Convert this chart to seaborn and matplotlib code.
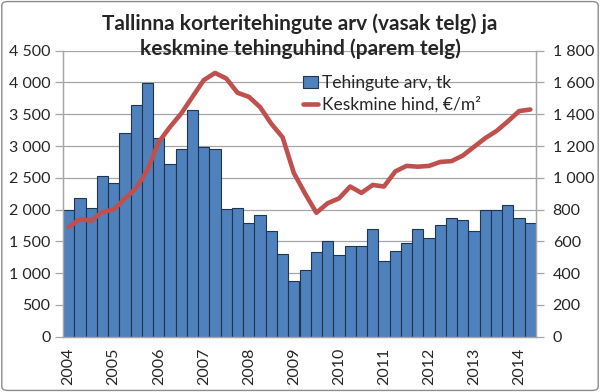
import numpy as np
import pandas as pd
import matplotlib
matplotlib.use('Agg')
import matplotlib.pyplot as plt
from matplotlib.patches import FancyBboxPatch
from matplotlib.ticker import FuncFormatter, FixedLocator
import seaborn as sns

# quarters 2004 Q1 .. 2014 Q2
years = list(range(2004, 2015))
quarters = [f'{y} Q{q}' for y in years for q in range(1, 5)][:42]

# number of transactions (left axis)
deals = [2000, 2180, 2020, 2530, 2420, 3210, 3640, 3990,
         3120, 2710, 2960, 3570, 2990, 2950, 2010, 2020,
         1790, 1920, 1660, 1300, 880, 1050, 1330, 1500,
         1290, 1430, 1420, 1690, 1190, 1350, 1470, 1700,
         1550, 1750, 1870, 1840, 1670, 2000, 1990, 2070,
         1860, 1790]

# average price EUR/m2 (right axis)
price = [690, 740, 730, 785, 800, 870, 935, 1050,
         1225, 1320, 1405, 1510, 1615, 1660, 1625, 1535,
         1510, 1445, 1340, 1255, 1030, 900, 780, 840,
         870, 945, 905, 955, 945, 1040, 1075, 1070,
         1075, 1100, 1105, 1140, 1195, 1250, 1295, 1355,
         1420, 1430]

BLUE = '#4F81BD'
RED = '#C0504D'
GRID = '#A6A6A6'
TICK_FS = 11.5

df = pd.DataFrame({'pos': np.arange(len(quarters)), 'quarter': quarters,
                   'deals': deals, 'price': price})

sns.set_style('white')
plt.rcParams['font.family'] = ['Lato', 'DejaVu Sans']

fig = plt.figure(figsize=(6, 3.92), dpi=100)
ax = fig.add_axes([63 / 600, 1 - 336.7 / 392, 473 / 600, 286 / 392])

sns.barplot(data=df, x='pos', y='deals', ax=ax, color=BLUE, width=1.0,
            saturation=1, edgecolor='#1F3550', linewidth=0.8, zorder=2,
            label='Tehingute arv, tk')
ax.set_xlim(-0.5, len(quarters) - 0.5)
ax.set_ylim(0, 4500)
ax.set_yticks(np.arange(0, 4501, 500))
ax.yaxis.set_major_formatter(FuncFormatter(lambda v, p: f'{int(v):,}'.replace(',', ' ')))
ax.grid(axis='y', color=GRID, linewidth=0.9, zorder=0)
ax.set_axisbelow(True)
ax.set_xlabel('')
ax.set_ylabel('')

# x ticks: labels at Q1 bars, tick marks at bar boundaries
ax.set_xticks(np.arange(0, len(quarters), 4))
ax.set_xticklabels([str(y) for y in years], rotation=90)
ax.xaxis.set_minor_locator(FixedLocator(np.arange(-0.5, len(quarters), 1)))
ax.tick_params(axis='x', which='major', length=0, pad=8, labelsize=TICK_FS)
ax.tick_params(axis='x', which='minor', length=5, color=GRID, width=0.9)
ax.tick_params(axis='y', length=6, color=GRID, width=0.9, labelsize=TICK_FS, pad=3)

ax2 = ax.twinx()
sns.lineplot(data=df, x='pos', y='price', ax=ax2, color=RED, linewidth=3.3,
             solid_joinstyle='round', solid_capstyle='round', zorder=3,
             label='Keskmine hind, €/m²')
ax2.set_ylim(0, 1800)
ax2.set_yticks(np.arange(0, 1801, 200))
ax2.yaxis.set_major_formatter(FuncFormatter(lambda v, p: f'{int(v):,}'.replace(',', ' ')))
ax2.set_ylabel('')
ax2.tick_params(axis='y', length=6, color=GRID, width=0.9, labelsize=TICK_FS, pad=6)
ax2.set_xlim(-0.5, len(quarters) - 0.5)

for a in (ax, ax2):
    a.spines['top'].set_visible(False)
    for side in ('left', 'right', 'bottom'):
        a.spines[side].set_color(GRID)
        a.spines[side].set_linewidth(0.9)

# combined legend
h1, l1 = ax.get_legend_handles_labels()
h2, l2 = ax2.get_legend_handles_labels()
if ax.get_legend():
    ax.get_legend().remove()
ax2.legend(h1 + h2, l1 + l2, loc='upper left', bbox_to_anchor=(0.488, 0.945),
           frameon=False, fontsize=12.5, handlelength=0.9, handletextpad=0.2,
           labelspacing=0.3, borderpad=0)

fig.text(0.5, 0.94, 'Tallinna korteritehingute arv (vasak telg) ja',
         ha='center', va='center', fontsize=15, fontweight='bold')
fig.text(0.5, 0.875, 'keskmine tehinguhind (parem telg)',
         ha='center', va='center', fontsize=15, fontweight='bold')

border = FancyBboxPatch((0.003, 0.004), 0.994, 0.992, boxstyle='round,pad=0,rounding_size=0.01',
                        transform=fig.transFigure, fill=False, edgecolor='#8C8C8C',
                        linewidth=1.0)
fig.patches.append(border)

fig.savefig('out.png', dpi=100)
